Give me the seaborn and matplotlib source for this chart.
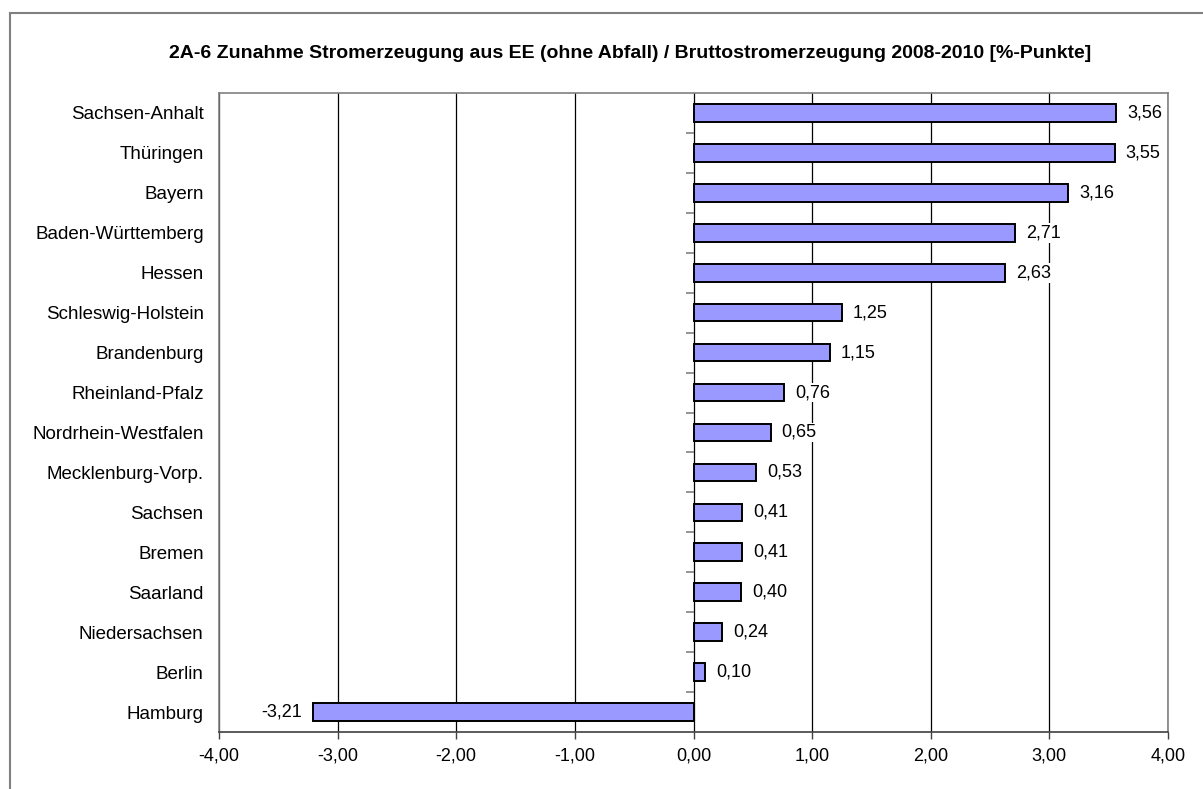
import numpy as np
import pandas as pd
import matplotlib
matplotlib.use("Agg")
import matplotlib.pyplot as plt
import seaborn as sns
from matplotlib.patches import Rectangle

# ── Data ──────────────────────────────────────────────────────────────────────
laender = [
    "Sachsen-Anhalt", "Thüringen", "Bayern", "Baden-Württemberg", "Hessen",
    "Schleswig-Holstein", "Brandenburg", "Rheinland-Pfalz", "Nordrhein-Westfalen",
    "Mecklenburg-Vorp.", "Sachsen", "Bremen", "Saarland", "Niedersachsen",
    "Berlin", "Hamburg",
]
zunahme = [3.56, 3.55, 3.16, 2.71, 2.63, 1.25, 1.15, 0.76, 0.65,
           0.53, 0.41, 0.41, 0.40, 0.24, 0.10, -3.21]
x_ticks = [-4, -3, -2, -1, 0, 1, 2, 3, 4]
title = "2A-6 Zunahme Stromerzeugung aus EE (ohne Abfall) / Bruttostromerzeugung 2008-2010 [%-Punkte]"

df = pd.DataFrame({"land": laender, "wert": zunahme})

sns.set_theme(style="white")
plt.rcParams["font.family"] = ["Liberation Sans", "DejaVu Sans"]
plt.rcParams["text.color"] = "black"
plt.rcParams["xtick.labelcolor"] = "black"
plt.rcParams["ytick.labelcolor"] = "black"


def de(v):
    return f"{v:.2f}".replace(".", ",")


fig = plt.figure(figsize=(12.03, 7.89), dpi=100)
ax = fig.add_axes([219 / 1203, 1 - 732 / 789, (1168 - 219) / 1203, (732 - 93) / 789])

# outer chart border
fig.patches.append(Rectangle((10 / 1203, -0.1), 1.2, 1 - 13 / 789 + 0.1,
                             transform=fig.transFigure, fill=False,
                             edgecolor="#808080", linewidth=1.5))

# gridlines
for t in x_ticks:
    ax.axvline(t, color="black", linewidth=0.9, zorder=0)

sns.barplot(data=df, y="land", x="wert", orient="h", color="#9999FF",
            saturation=1, width=0.44, edgecolor="black", linewidth=1.4,
            ax=ax, zorder=2)

ax.set_xlim(-4, 4)
ax.set_ylim(len(laender) - 0.5, -0.5)
ax.set_xticks(x_ticks)
ax.set_xticklabels([de(t) for t in x_ticks], fontsize=13)
ax.set_xlabel("")
ax.set_ylabel("")
ax.tick_params(axis="x", length=5, width=1, color="#404040", pad=6, bottom=True)
ax.tick_params(axis="y", length=0, pad=11, labelsize=13.5)

for s in ax.spines.values():
    s.set_color("#808080")
    s.set_linewidth(1.2)
ax.spines["bottom"].set_color("#404040")

# y axis at 0 with tick marks between categories
bounds = np.arange(len(laender) - 1) + 0.5
ax.plot(np.zeros_like(bounds), bounds, linestyle="none", marker=0,
        markersize=6, markeredgewidth=1.2, color="#808080", zorder=3,
        clip_on=False)

# value labels (white box hides the gridlines behind them)
box = dict(facecolor="white", edgecolor="none", pad=1)
for i, v in enumerate(zunahme):
    if v >= 0:
        ax.annotate(de(v), (v, i), xytext=(8, 0), textcoords="offset points",
                    ha="left", va="center", fontsize=13, bbox=box, zorder=4)
    else:
        ax.annotate(de(v), (v, i), xytext=(-8, 0), textcoords="offset points",
                    ha="right", va="center", fontsize=13, bbox=box, zorder=4)

fig.text(630 / 1203, 1 - 54 / 789, title, ha="center", va="center",
         fontsize=14, fontweight="bold")

fig.savefig("out.png", dpi=100)
